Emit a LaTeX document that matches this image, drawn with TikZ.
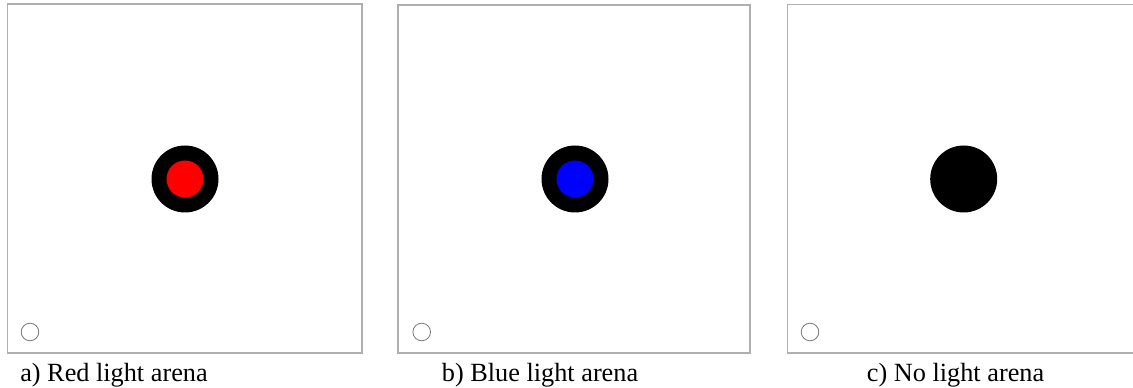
\documentclass[tikz,border=0pt]{standalone}
\usepackage{fontspec}
\setmainfont{Liberation Serif}
\usetikzlibrary{positioning}
\definecolor{edgegray}{RGB}{175, 175, 175}
\definecolor{startgray}{RGB}{120, 120, 120}
\definecolor{lampred}{RGB}{255, 0, 0}
\definecolor{lampblue}{RGB}{0, 0, 255}
\tikzset{
    arena/.style   ={draw=edgegray, line width=0.8pt, fill=white},
    lamp/.style    ={circle, fill=black, minimum size=50.25pt, inner sep=0pt},
    core/.style    ={circle, minimum size=27.75pt, inner sep=0pt},
    startpt/.style ={circle, draw=startgray, line width=0.6pt, fill=white,
                     minimum size=13.2pt, inner sep=0pt},
    arenalbl/.style={font=\fontsize{19.7}{23}\selectfont, anchor=base west,
                     inner sep=0pt}
}
\begin{document}
\begin{tikzpicture}[x=0.75pt, y=-0.75pt]
  \useasboundingbox (0,0) rectangle (1133,388);
  \clip (0,0) rectangle (1133,388);
  % red light
  \draw[arena] (7.5,4) rectangle (362,353);
  \node[lamp] (lampA) at (185,179) {};
  \node[core, fill=lampred] (coreA) at (lampA) {};
  \node[startpt] (startA) at (30,332) {};
  \node[arenalbl] (lblA) at (20,381.5) {a) Red light arena};
  % blue light
  \draw[arena] (398,5) rectangle (750,353);
  \node[lamp] (lampB) at (575,179) {};
  \node[core, fill=lampblue] (coreB) at (lampB) {};
  \node[startpt] (startB) at (421.7,332) {};
  \node[arenalbl] (lblB) at (441.7,381.5) {b) Blue light arena};
  % no light
  \draw[arena] (787.3,4.3) rectangle (1140,353);
  \node[lamp] (lampC) at (963.7,179) {};
  \node[startpt] (startC) at (810,332) {};
  \node[arenalbl] (lblC) at (866.7,381.5) {c) No light arena};
\end{tikzpicture}
\end{document}
